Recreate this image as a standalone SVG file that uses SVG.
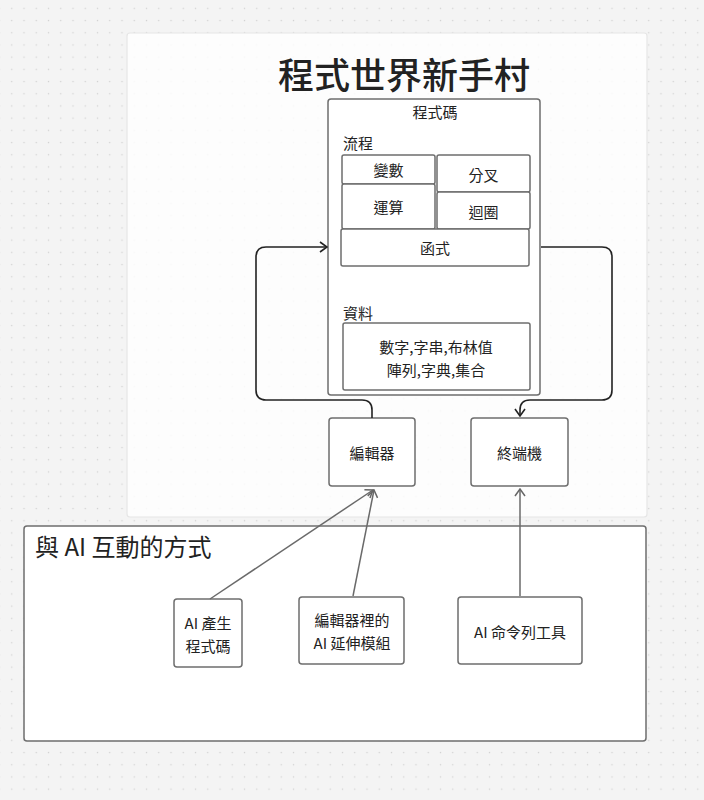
<svg xmlns="http://www.w3.org/2000/svg" width="704" height="800" viewBox="0 0 704 800">
  <defs>
    <pattern id="dots" x="5.6" y="2.2" width="12.25" height="12.2" patternUnits="userSpaceOnUse">
      <rect x="5.5" y="5.5" width="1.3" height="1.3" fill="#d2d2d2"/>
    </pattern>
    <marker id="arrD" viewBox="0 0 12 12" refX="11" refY="6" markerWidth="12" markerHeight="12" markerUnits="userSpaceOnUse" orient="auto">
      <path d="M4,1 L11,6 L4,11" fill="none" stroke="#222" stroke-width="1.6"/>
    </marker>
    <marker id="arrG" viewBox="0 0 12 12" refX="11" refY="6" markerWidth="12" markerHeight="12" markerUnits="userSpaceOnUse" orient="auto">
      <path d="M4,1 L11,6 L4,11" fill="none" stroke="#666" stroke-width="1.5"/>
    </marker>
  </defs>
  <style>
    text { font-family: "Noto Sans CJK TC", "Noto Sans", sans-serif; fill: #222; }
    .box { fill: #fff; stroke: #6e6e6e; stroke-width: 1.5; }
    .lbl { font-size: 15px; text-anchor: middle; dominant-baseline: central; }
    .cap { font-size: 15px; dominant-baseline: central; }
    .dark { fill: none; stroke: #222; stroke-width: 1.6; }
    .gray { fill: none; stroke: #6a6a6a; stroke-width: 1.5; }
  </style>

  <rect width="704" height="800" fill="#f4f4f4"/>
  <rect width="704" height="800" fill="url(#dots)"/>

  <g id="panel-world">
    <rect x="127" y="33" width="520" height="484" rx="3" fill="#fefefe" fill-opacity="0.85" stroke="#e6e6e6" stroke-width="1.2"/>
    <text x="404" y="73" font-size="36" font-weight="500" text-anchor="middle" dominant-baseline="central">程式世界新手村</text>
  </g>

  <g id="panel-ai">
    <rect x="24" y="526" width="622" height="215" rx="3" fill="#fff" stroke="#6e6e6e" stroke-width="1.5"/>
    <text x="35" y="545" font-size="24" dominant-baseline="central">與 AI 互動的方式</text>
  </g>

  <g id="code">
    <rect class="box" x="328" y="99" width="212" height="296" rx="3"/>
    <text class="lbl" x="435" y="111">程式碼</text>
    <text class="cap" x="343" y="142">流程</text>
    <text class="cap" x="343" y="312">資料</text>
  </g>
  <g id="var">
    <rect class="box" x="342" y="155" width="93" height="29" rx="2"/>
    <text class="lbl" x="388.5" y="169">變數</text>
  </g>
  <g id="op">
    <rect class="box" x="342" y="184" width="93" height="45" rx="2"/>
    <text class="lbl" x="388.5" y="206">運算</text>
  </g>
  <g id="branch">
    <rect class="box" x="437" y="155" width="93" height="37" rx="2"/>
    <text class="lbl" x="483.5" y="174">分叉</text>
  </g>
  <g id="loop">
    <rect class="box" x="437" y="192" width="93" height="37" rx="2"/>
    <text class="lbl" x="483.5" y="211">迴圈</text>
  </g>
  <g id="func">
    <rect class="box" x="341" y="229" width="188" height="37" rx="2"/>
    <text class="lbl" x="435" y="247">函式</text>
  </g>
  <g id="data">
    <rect class="box" x="343" y="323" width="187" height="67" rx="2"/>
    <text class="lbl" x="436" y="346" font-size="16.5">數字,字串,布林值</text>
    <text class="lbl" x="436" y="369" font-size="16.5">陣列,字典,集合</text>
  </g>

  <g id="editor">
    <rect class="box" x="329" y="418" width="86" height="68" rx="3"/>
    <text class="lbl" x="372" y="452">編輯器</text>
  </g>
  <g id="terminal">
    <rect class="box" x="471" y="418" width="97" height="68" rx="3"/>
    <text class="lbl" x="519.5" y="452">終端機</text>
  </g>

  <g id="ai-gen">
    <rect class="box" x="174" y="599" width="68" height="68" rx="3"/>
    <text class="lbl" x="208" y="622">AI 產生</text>
    <text class="lbl" x="208" y="645">程式碼</text>
  </g>
  <g id="ai-ext">
    <rect class="box" x="299" y="597" width="105" height="67" rx="3"/>
    <text class="lbl" x="352" y="619">編輯器裡的</text>
    <text class="lbl" x="352" y="642">AI 延伸模組</text>
  </g>
  <g id="ai-cli">
    <rect class="box" x="458" y="597" width="124" height="67" rx="3"/>
    <text class="lbl" x="520" y="631">AI 命令列工具</text>
  </g>

  <g id="connectors">
    <path class="dark" d="M372,418 V410 Q372,400 362,400 H266 Q256,400 256,390 V257 Q256,247 266,247 H327" marker-end="url(#arrD)"/>
    <path class="dark" d="M541,247 H602 Q612,247 612,257 V390 Q612,400 602,400 H530 Q520,400 520,410 V416" marker-end="url(#arrD)"/>
    <path class="gray" d="M210,599 L373,490" marker-end="url(#arrG)"/>
    <path class="gray" d="M353,596 L374,490" marker-end="url(#arrG)"/>
    <path class="gray" d="M520,596 V489" marker-end="url(#arrG)"/>
  </g>
</svg>
